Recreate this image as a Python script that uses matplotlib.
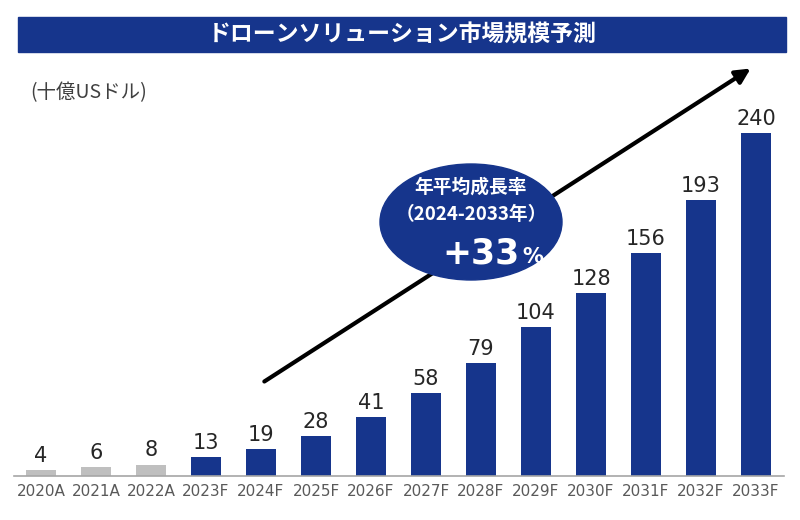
import matplotlib
matplotlib.use("Agg")
import matplotlib.pyplot as plt
from matplotlib.patches import Ellipse, Rectangle, FancyArrowPatch

plt.rcParams['font.family'] = ['Noto Sans CJK JP', 'DejaVu Sans']

years = ['2020A', '2021A', '2022A', '2023F', '2024F', '2025F', '2026F',
         '2027F', '2028F', '2029F', '2030F', '2031F', '2032F', '2033F']
values = [4, 6, 8, 13, 19, 28, 41, 58, 79, 104, 128, 156, 193, 240]
actual = [True, True, True] + [False] * 11

BLUE = '#16358c'
GRAY = '#bfbfbf'
NUM = ['DejaVu Sans']

fig = plt.figure(figsize=(8, 5.2), dpi=100)
ax = fig.add_axes([13.5 / 800, 44 / 520, 770 / 800, 416 / 520])

colors = [GRAY if a else BLUE for a in actual]
x = range(len(years))
bars = ax.bar(x, values, width=0.55, color=colors)
for b, v in zip(bars, values):
    ax.annotate(str(v), (b.get_x() + b.get_width() / 2, v), xytext=(0, 3),
                textcoords='offset points', ha='center', va='bottom',
                fontsize=15, color='#262626', family=NUM)

ax.set_xlim(-0.5, len(years) - 0.5)
ax.set_ylim(0, 291)
ax.set_xticks(list(x))
ax.set_xticklabels(years, fontsize=11, color='#595959', family=NUM)
ax.tick_params(axis='x', length=0, pad=6)
ax.set_yticks([])
for s in ['top', 'right', 'left']:
    ax.spines[s].set_visible(False)
ax.spines['bottom'].set_color('#a6a6a6')
ax.spines['bottom'].set_linewidth(1.2)

# title banner
fig.patches.append(Rectangle((18 / 800, 1 - 52 / 520), 768 / 800, 35 / 520,
                             transform=fig.transFigure, color=BLUE, zorder=0))
fig.text(402 / 800, 1 - 35 / 520, 'ドローンソリューション市場規模予測', color='white',
         fontsize=16.5, fontweight='bold', ha='center', va='center')

fig.text(30 / 800, 1 - 93 / 520, '(十億USドル)', fontsize=14, color='#404040',
         ha='left', va='center')

# growth arrow
fig.add_artist(FancyArrowPatch(
    (262 / 800, 1 - 383 / 520), (753 / 800, 1 - 67 / 520),
    transform=fig.transFigure, arrowstyle='-|>', mutation_scale=22,
    lw=3, color='black'))

# CAGR ellipse
fig.add_artist(Ellipse((471 / 800, 1 - 222 / 520), 182 / 800, 116 / 520,
                       transform=fig.transFigure, color=BLUE, zorder=5))
fig.text(471 / 800, 1 - 187 / 520, '年平均成長率', color='white', fontsize=13.5,
         fontweight='bold', ha='center', va='center', zorder=6)
fig.text(471 / 800, 1 - 215 / 520, '（2024-2033年）', color='white', fontsize=13.5,
         fontweight='bold', ha='center', va='center', zorder=6)
fig.text(520 / 800, 1 - 253 / 520, '+33', color='white', fontsize=25,
         fontweight='bold', ha='right', va='center', zorder=6, family=NUM)
fig.text(522 / 800, 1 - 257 / 520, '%', color='white', fontsize=15,
         fontweight='bold', ha='left', va='center', zorder=6, family=NUM)

fig.savefig('out.png', dpi=100)
